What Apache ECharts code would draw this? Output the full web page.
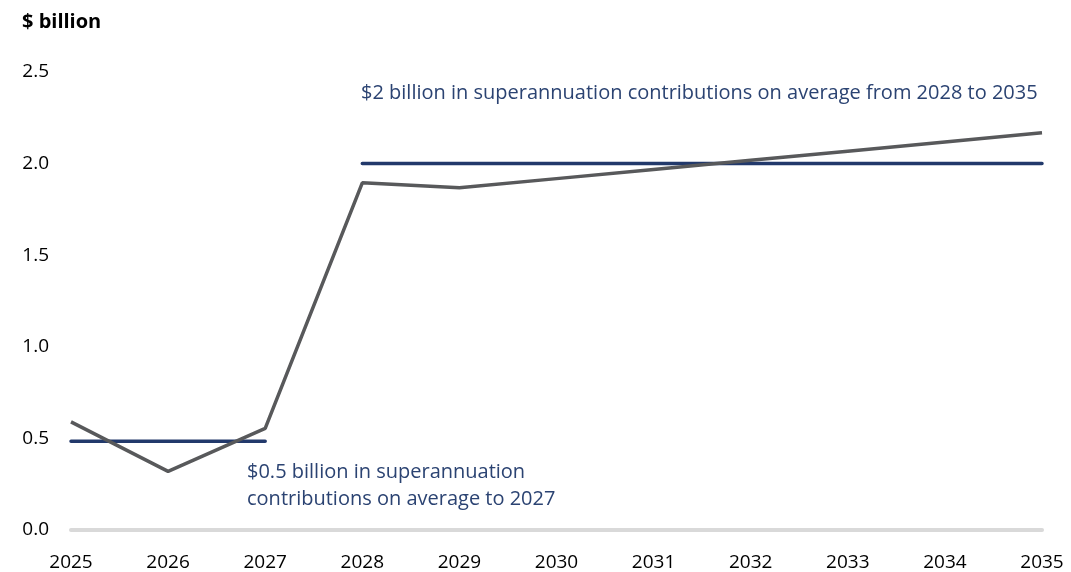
<!DOCTYPE html>
<html><head><meta charset="utf-8">
<script src="https://cdn.jsdelivr.net/npm/echarts@6/dist/echarts.min.js"></script>
<style>html,body{margin:0;padding:0;background:#fff}#c{width:1071px;height:572px}</style>
</head><body><div id="c"></div>
<script>
const years = ['2025','2026','2027','2028','2029','2030','2031','2032','2033','2034','2035'];
const contributions = [0.59, 0.32, 0.555, 1.895, 1.868, 1.918, 1.968, 2.018, 2.068, 2.118, 2.168];
const avgTo2027 = [0.485, 0.485, 0.485, null, null, null, null, null, null, null, null];
const avg2028to2035 = [null, null, null, 2.0, 2.0, 2.0, 2.0, 2.0, 2.0, 2.0, 2.0];
const yTicks = [0, 0.5, 1.0, 1.5, 2.0, 2.5];
const noteHigh = '$2 billion in superannuation contributions on average from 2028 to 2035';
const noteLow = '$0.5 billion in superannuation\ncontributions on average to 2027';

const FONT = '"Open Sans", "Noto Sans", sans-serif';
const chart = echarts.init(document.getElementById('c'));
chart.setOption({
  animation: false,
  textStyle: { fontFamily: FONT },
  grid: { left: 71, right: 29, top: 72, bottom: 40, containLabel: false },
  xAxis: {
    type: 'category', data: years, boundaryGap: false,
    axisLine: { show: true, lineStyle: { color: '#d9d9d9', width: 4 } },
    axisTick: { show: false },
    axisLabel: { color: '#000', fontSize: 19, margin: 23, fontFamily: FONT }
  },
  yAxis: {
    type: 'value', min: yTicks[0], max: yTicks[yTicks.length - 1], interval: 0.5,
    axisLine: { show: false }, axisTick: { show: false }, splitLine: { show: false },
    axisLabel: { color: '#000', fontSize: 19, margin: 22, fontFamily: FONT,
      formatter: v => v.toFixed(1) }
  },
  graphic: [
    { type: 'text', left: 22, top: 12, style: { text: '$ billion', fontSize: 20, fontWeight: 'bold', fill: '#000', fontFamily: FONT } },
    { type: 'text', left: 361, top: 83, style: { text: noteHigh, fontSize: 20, fill: '#2b4372', fontFamily: FONT } },
    { type: 'text', left: 247, top: 459, style: { text: noteLow, fontSize: 20, lineHeight: 27, fill: '#2b4372', fontFamily: FONT } }
  ],
  series: [
    { type: 'line', data: contributions, symbol: 'none', lineStyle: { color: '#58595b', width: 3.5 }, z: 3 },
    { type: 'line', data: avgTo2027, symbol: 'none', lineStyle: { color: '#22396b', width: 3.5, cap: 'round' }, z: 2 },
    { type: 'line', data: avg2028to2035, symbol: 'none', lineStyle: { color: '#22396b', width: 3.5, cap: 'round' }, z: 2 }
  ]
});
</script></body></html>
